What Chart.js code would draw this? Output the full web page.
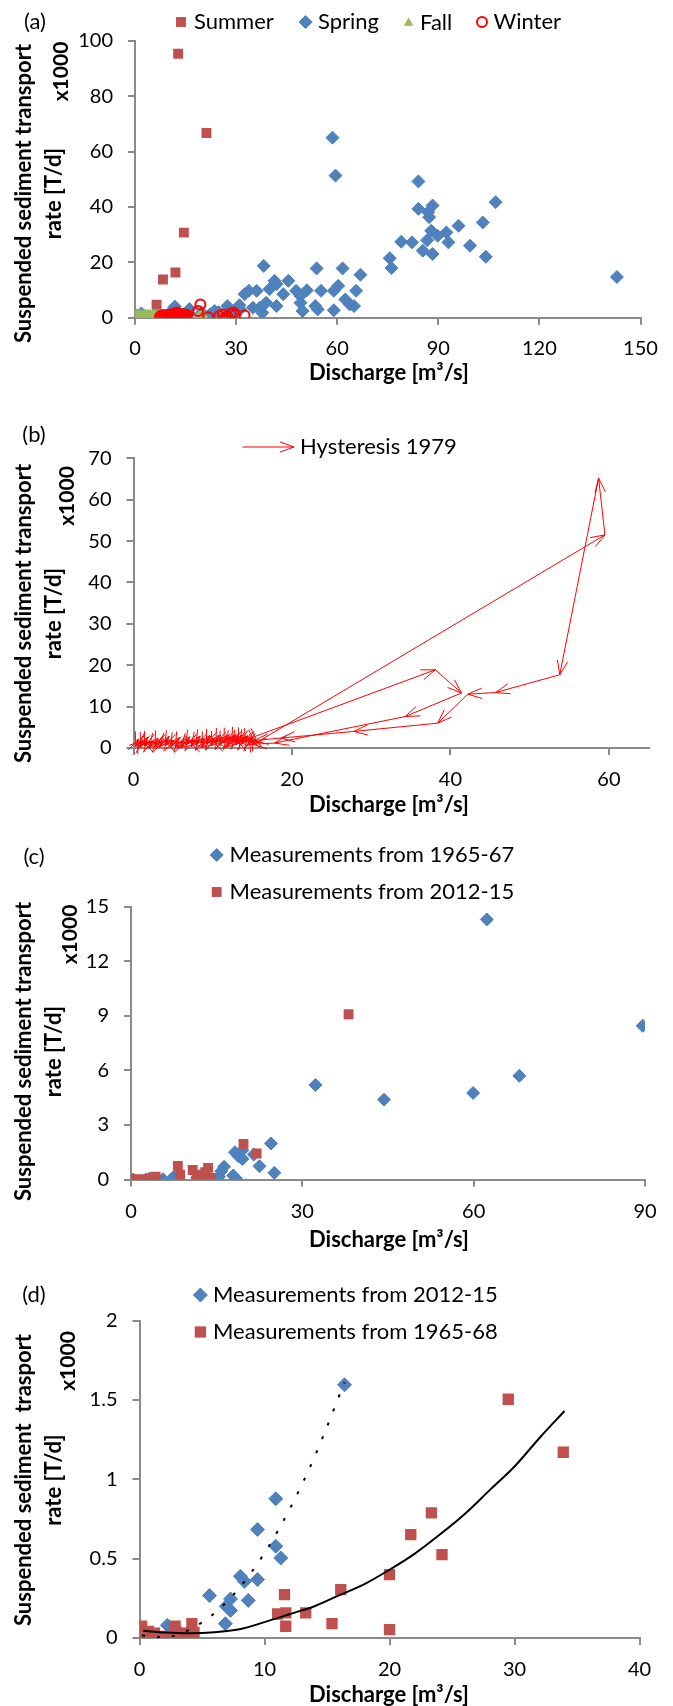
<!DOCTYPE html>
<html>
<head>
<meta charset="utf-8">
<script src="https://cdn.jsdelivr.net/npm/chart.js@4.4.1/dist/chart.umd.min.js"></script>
<style>
  body { margin: 0; background: #fff; }
  .panel { position: absolute; left: 0; width: 673px; }
</style>
</head>
<body>
<div class="panel" style="top:0;height:410px"><canvas id="chartA"></canvas></div>
<div class="panel" style="top:410px;height:425px"><canvas id="chartB"></canvas></div>
<div class="panel" style="top:835px;height:427px"><canvas id="chartC"></canvas></div>
<div class="panel" style="top:1262px;height:444px"><canvas id="chartD"></canvas></div>
<script>
// ---- (a) seasons ----
const summerA = [[0.5,1.0],[6.4,4.7],[8.3,13.8],[12.0,16.3],[12.8,95.3],[14.5,30.7],[21.2,66.7]];
const springA = [[58.6,65.0],[59.5,51.3],[84.1,49.2],[107.0,41.7],[84.1,39.3],[88.3,40.5],[87.0,38.1],[87.3,36.3],
  [103.2,34.4],[96.0,33.2],[87.9,31.4],[92.4,30.8],[89.8,29.6],[93.0,27.2],[86.7,28.0],[79.0,27.4],[82.2,27.2],
  [99.4,26.0],[85.4,24.2],[88.3,23.0],[104.1,22.0],[75.6,21.5],[76.1,17.9],[143.0,14.7],[38.2,18.7],[53.9,17.8],
  [61.6,17.8],[66.9,15.5],[41.4,13.3],[45.5,13.3],[42.0,12.1],[60.3,11.5],[59.0,9.7],[65.6,9.7],[55.2,9.7],
  [51.0,9.9],[47.8,9.7],[39.9,10.3],[36.1,9.7],[32.5,8.5],[33.8,9.7],[44.0,8.5],[49.1,7.9],[62.4,6.6],[63.7,4.8],
  [65.0,4.2],[53.5,4.2],[54.2,3.0],[59.0,2.7],[49.7,2.4],[49.1,5.4],[38.9,5.4],[42.0,4.2],[37.8,1.8],[37.0,3.6],
  [35.0,3.6],[31.2,3.0],[27.4,4.2],[23.6,2.4],[19.8,1.8],[11.5,3.3],[15.9,1.5],[29.3,1.5],[1.9,1.5],[0.5,0.8],
  [4.0,0.5],[6.0,1.2],[11.8,4.0],[16.2,3.1],[22.3,1.2],[24.8,2.0],[31.0,4.5]];
const fallA = [[0,0.2],[0.4,0.6],[0.8,0.1],[1.1,0.9],[1.5,0.3],[1.9,0.7],[2.2,0.1],[2.6,0.5],[3.0,1.0],[3.3,0.2],
  [3.7,0.6],[4.1,0.3],[4.5,0.8],[4.9,0.1],[5.3,0.5],[5.7,0.9],[6.1,0.2],[6.5,0.6],[6.9,0.3],[7.3,0.8],[7.8,0.2],
  [8.3,0.5],[9.0,0.3],[9.8,0.6],[10.5,0.2],[11.3,0.5],[12.2,0.1],[19.0,0.3],[19.8,0.8],[20.5,0.2],[26.0,0.4],
  [27.2,0.1],[28.0,0.6]];
const winterA = [[7.4,0.3],[7.8,0.8],[8.2,0.2],[8.6,1.0],[8.9,0.4],[9.3,0.7],[9.6,0.1],[10.0,1.1],[10.3,0.5],
  [10.6,0.9],[10.9,0.2],[11.2,1.3],[11.5,0.6],[11.8,1.6],[12.1,0.3],[12.4,1.9],[12.7,0.9],[13.0,1.4],[13.3,0.4],
  [13.6,1.1],[13.9,0.7],[14.2,1.3],[14.5,0.3],[14.8,0.9],[15.1,0.5],[15.5,1.0],[18.7,2.4],[19.4,4.8],[21.7,0.2],
  [25.0,0.6],[26.1,1.2],[26.8,0.1],[27.4,0.4],[28.4,1.5],[29.3,1.9],[29.7,1.0],[32.5,0.8]];
const xTicksA = [0, 30, 60, 90, 120, 150];
const yTicksA = [0, 20, 40, 60, 80, 100];

// ---- (b) hysteresis 1979 (ordered in time) ----
const hystB = [[0.2,0.3],[0.6,2.2],[0.3,0.4],[1.2,1.9],[0.9,0.2],[1.8,2.6],[1.4,0.5],[2.5,1.6],[2.0,0.1],[3.1,2.4],
  [2.7,0.6],[3.8,1.5],[3.3,0.2],[4.5,2.8],[4.0,0.7],[5.1,1.8],[4.7,0.2],[5.8,2.5],[5.3,0.4],[6.5,1.4],[6.0,0.1],
  [7.1,2.7],[6.6,0.8],[7.8,1.9],[7.3,0.3],[8.4,2.9],[7.9,0.9],[9.0,2.2],[8.6,0.4],[9.6,3.0],[9.2,1.0],[10.2,2.4],
  [9.8,0.5],[10.8,3.1],[10.4,1.2],[11.3,2.6],[10.9,0.6],[11.8,3.2],[11.4,1.3],[12.3,2.7],[11.9,0.7],[12.8,3.3],
  [12.4,1.5],[13.2,2.8],[12.9,0.8],[13.6,3.2],[13.3,1.4],[14.0,2.6],[13.7,0.9],[14.4,3.0],[14.1,1.2],[14.8,2.4],
  [38.1,18.9],[41.4,13.3],[34.3,7.6],[17.8,1.2],
  [15.0,0.9],[14.6,2.5],[15.3,1.1],[14.9,2.8],[15.6,1.4],
  [59.5,51.5],[58.7,65.2],[53.8,17.7],[45.7,13.4],[42.2,13.0],[38.4,6.0],[27.8,4.0],[18.6,2.4],
  [15.2,1.8],[14.3,0.6],[13.0,2.1],[11.6,0.2],[10.0,1.8],[8.6,0.2],[7.0,1.6],[5.5,0.2],[4.0,1.9],[2.6,0.2],
  [1.2,1.5],[0.5,0.2]];
const xTicksB = [0, 20, 40, 60];
const yTicksB = [0, 10, 20, 30, 40, 50, 60, 70];

// ---- (c) 1965-67 vs 2012-15 ----
const old6567C = [[62.3,14.3],[89.6,8.45],[68.0,5.7],[32.3,5.2],[59.9,4.76],[44.3,4.39],[24.5,1.98],[18.2,1.5],
  [19.5,1.6],[18.8,1.28],[19.5,1.13],[21.5,1.37],[22.5,0.73],[25.1,0.37],[16.3,0.70],[15.8,0.46],[17.9,0.22],
  [18.4,0.04],[15.4,0.15],[11.6,0.1],[8.0,0.1],[7.5,0.15],[5.6,0.02],[2.6,0.0],[0.4,0.0],[3.2,0.05]];
const new1215C = [[38.1,9.09],[19.7,1.96],[22.0,1.43],[8.2,0.75],[8.6,0.27],[10.8,0.52],[11.5,0.15],[13.0,0.4],
  [13.5,0.64],[14.0,0.09],[12.4,0.27],[4.3,0.15],[4.0,0.1],[0.0,0.0],[1.0,0.02],[2.1,0.0],[3.0,0.03]];
const xTicksC = [0, 30, 60, 90];
const yTicksC = [0, 3, 6, 9, 12, 15];

// ---- (d) 2012-15 vs 1965-68 with trendlines ----
const new1215D = [[16.4,1.595],[10.9,0.877],[9.44,0.683],[10.9,0.578],[11.3,0.504],[8.07,0.389],[8.4,0.357],
  [9.44,0.368],[5.6,0.267],[8.7,0.237],[7.28,0.246],[6.94,0.2],[7.28,0.174],[6.87,0.09],[2.23,0.08],[4.12,0.053],
  [2.75,0.0],[0.0,0.0],[4.2,0.02],[3.2,0.01]];
const old6568D = [[29.5,1.504],[33.9,1.17],[23.35,0.788],[21.7,0.651],[24.2,0.525],[20.0,0.399],[16.1,0.305],
  [11.6,0.273],[11.05,0.151],[11.7,0.158],[13.3,0.158],[11.7,0.074],[15.4,0.09],[20.0,0.053],[0.17,0.074],
  [0.7,0.042],[1.2,0.03],[0.5,0.0],[2.06,0.01],[2.85,0.074],[2.9,0.042],[4.19,0.09],[4.36,0.036],[3.6,0.03]];
const trendNewD = [[0.2,0.015],[2,0.005],[4,0.053],[6,0.157],[8,0.317],[10,0.535],[12,0.81],[14,1.14],[16.4,1.61]];
const trendOldD = [[0.3,0.045],[2,0.035],[4,0.03],[6,0.036],[8,0.055],[10,0.1],[12,0.15],[14,0.2],[16,0.27],
  [18,0.34],[20,0.43],[22,0.53],[24,0.65],[26,0.78],[28,0.93],[30,1.08],[32,1.26],[34,1.43]];
const xTicksD = [0, 10, 20, 30, 40];
const yTicksD = [0, 0.5, 1, 1.5, 2];

const BLUE = '#4F81BD', RED = '#C0504D', GREEN = '#9BBB59', BRIGHT = '#FF0000';
const AXIS = '#8a8a8a';
const FONT = 'Lato, "Open Sans", sans-serif';

const pts = arr => arr.map(([x, y]) => ({ x, y }));

function arrowHead(ctx, x0, y0, x1, y1) {
  const a = Math.atan2(y1 - y0, x1 - x0), len = 15, ang = 0.35;
  if (Math.hypot(x1 - x0, y1 - y0) < 1) return;
  ctx.beginPath();
  ctx.moveTo(x1 - len * Math.cos(a - ang), y1 - len * Math.sin(a - ang));
  ctx.lineTo(x1, y1);
  ctx.lineTo(x1 - len * Math.cos(a + ang), y1 - len * Math.sin(a + ang));
  ctx.stroke();
}

// texts, custom legends and arrow heads
const decor = {
  id: 'decor',
  afterDatasetsDraw(chart) {
    const ctx = chart.ctx;
    chart.data.datasets.forEach((ds, i) => {
      if (!ds.arrowHeads) return;
      const els = chart.getDatasetMeta(i).data;
      ctx.save();
      ctx.strokeStyle = ds.borderColor;
      ctx.lineWidth = ds.borderWidth;
      for (let k = 1; k < els.length; k++) arrowHead(ctx, els[k - 1].x, els[k - 1].y, els[k].x, els[k].y);
      ctx.restore();
    });
  },
  afterDraw(chart, args, opts) {
    const ctx = chart.ctx, top = opts.top || 0;
    (opts.texts || []).forEach(d => {
      ctx.save();
      ctx.font = (d.bold ? 'bold ' : '') + d.size + 'px ' + FONT;
      ctx.fillStyle = '#000';
      ctx.textBaseline = 'middle';
      ctx.textAlign = d.align || 'center';
      ctx.translate(d.x, d.y - top);
      if (d.rot) ctx.rotate(-Math.PI / 2);
      ctx.fillText(d.t, 0, 0);
      ctx.restore();
    });
    (opts.legend || []).forEach(it => {
      const y = it.y - top;
      const ds = chart.data.datasets[it.ds];
      ctx.save();
      if (it.arrow) {
        ctx.strokeStyle = ds.borderColor;
        ctx.lineWidth = ds.borderWidth;
        ctx.beginPath(); ctx.moveTo(it.x0, y); ctx.lineTo(it.x1, y); ctx.stroke();
        arrowHead(ctx, it.x0, y, it.x1, y);
      } else {
        ctx.fillStyle = ds.pointBackgroundColor;
        ctx.strokeStyle = ds.pointBorderColor || ds.pointBackgroundColor;
        ctx.lineWidth = ds.pointBorderWidth || 0;
        Chart.helpers.drawPoint(ctx, {
          pointStyle: ds.pointStyle, radius: it.r || ds.pointRadius, rotation: 0, borderWidth: ds.pointBorderWidth || 0
        }, it.x, y);
      }
      ctx.font = '22px ' + FONT;
      ctx.fillStyle = '#000';
      ctx.textBaseline = 'middle';
      ctx.textAlign = 'left';
      ctx.fillText(it.label, it.tx, y);
      ctx.restore();
    });
  }
};
Chart.register(decor);

// axis box size is fixed so the plot area lands where the original has it
function axis(ticks, max, pad, size) {
  return {
    type: 'linear', min: 0, max: max,
    afterBuildTicks: s => { s.ticks = ticks.map(v => ({ value: v })); },
    afterFit: s => {
      if (s.isHorizontal()) s.height = size; else s.width = size;
      s.paddingTop = s.paddingBottom = s.paddingLeft = s.paddingRight = 0;
    },
    ticks: { color: '#000', font: { family: FONT, size: 20 }, padding: pad, maxRotation: 0, autoSkip: false,
             callback: v => String(v) },
    grid: { drawOnChartArea: false, drawTicks: true, tickLength: 7, color: AXIS, lineWidth: 2 },
    border: { color: AXIS, width: 2 }
  };
}

function yTitles(l1, yc, xk, yk) {
  return [
    { t: l1, x: 24, y: yc, size: 22, bold: true, rot: true },
    { t: 'rate [T/d]', x: 54, y: yc, size: 22, bold: true, rot: true },
    { t: 'x1000', x: xk, y: yk, size: 21, bold: true, rot: true }
  ];
}

function makeChart(id, top, padding, datasets, scales, decorOpts) {
  decorOpts.top = top;
  return new Chart(document.getElementById(id), {
    type: 'scatter',
    data: { datasets: datasets },
    options: {
      responsive: true,
      maintainAspectRatio: false,
      animation: false,
      layout: { padding: padding },
      plugins: { legend: { display: false }, tooltip: { enabled: false }, decor: decorOpts },
      scales: scales
    }
  });
}

// (a)
makeChart('chartA', 0, { left: 0, right: 32.5, top: 40.7, bottom: 0 }, [
  { label: 'Winter', data: pts(winterA), pointStyle: 'circle', pointRadius: 5, pointBorderWidth: 2,
    pointBorderColor: BRIGHT, pointBackgroundColor: 'rgba(255,255,255,0)' },
  { label: 'Fall', data: pts(fallA), pointStyle: 'triangle', pointRadius: 7, pointBorderWidth: 0,
    pointBackgroundColor: GREEN },
  { label: 'Spring', data: pts(springA), pointStyle: 'rectRot', pointRadius: 6.5, pointBorderWidth: 1,
    pointBorderColor: BLUE, pointBackgroundColor: BLUE },
  { label: 'Summer', data: pts(summerA), pointStyle: 'rect', pointRadius: 7, pointBorderWidth: 0,
    pointBackgroundColor: RED }
], { x: axis(xTicksA, 150, 12, 92.3), y: axis(yTicksA, 100, 15, 135) }, {
  texts: [
    { t: '(a)', x: 35, y: 22, size: 22 },
    { t: 'Discharge [m³/s]', x: 389, y: 373, size: 22, bold: true }
  ].concat(yTitles('Suspended sediment transport', 193.5, 61, 71.5)),
  legend: [
    { ds: 3, x: 181, tx: 194, y: 22, label: 'Summer' },
    { ds: 2, x: 305.6, tx: 318, y: 22, label: 'Spring' },
    { ds: 1, x: 408.6, tx: 420, y: 23, r: 5.5, label: 'Fall' },
    { ds: 0, x: 482, tx: 493.5, y: 22, label: 'Winter' }
  ]
});

// (b)
makeChart('chartB', 410, { left: 0, right: 24.5, top: 48.3, bottom: 0 }, [
  { label: 'Hysteresis 1979', data: pts(hystB), showLine: true, borderColor: BRIGHT, borderWidth: 1,
    pointRadius: 0, arrowHeads: true }
], { x: axis(xTicksB, 65, 13, 87), y: axis(yTicksB, 70, 15, 133.5) }, {
  texts: [
    { t: '(b)', x: 34, y: 435, size: 22 },
    { t: 'Discharge [m³/s]', x: 389, y: 805, size: 22, bold: true }
  ].concat(yTitles('Suspended sediment transport', 613.5, 67, 496)),
  legend: [{ ds: 0, arrow: true, x0: 242.5, x1: 294, tx: 300, y: 447, label: 'Hysteresis 1979' }]
});

// (c)
makeChart('chartC', 835, { left: 0, right: 28, top: 71.7, bottom: 0 }, [
  { label: 'Measurements from 2012-15', data: pts(new1215C), pointStyle: 'rect', pointRadius: 7,
    pointBorderWidth: 0, pointBackgroundColor: RED },
  { label: 'Measurements from 1965-67', data: pts(old6567C), pointStyle: 'rectRot', pointRadius: 6.5,
    pointBorderWidth: 1, pointBorderColor: BLUE, pointBackgroundColor: BLUE }
], { x: axis(xTicksC, 90, 13, 82.5), y: axis(yTicksC, 15, 15, 131) }, {
  texts: [
    { t: '(c)', x: 34, y: 857, size: 22 },
    { t: 'Discharge [m³/s]', x: 389, y: 1240, size: 22, bold: true }
  ].concat(yTitles('Suspended sediment transport', 1051.5, 70, 934.5)),
  legend: [
    { ds: 1, x: 216.7, tx: 229.6, y: 855, label: 'Measurements from 1965-67' },
    { ds: 0, x: 216.7, tx: 229.6, y: 892, label: 'Measurements from 2012-15' }
  ]
});

// (d)
makeChart('chartD', 1262, { left: 0, right: 33.5, top: 58.5, bottom: 0 }, [
  { label: 'trend 1965-68', data: pts(trendOldD), showLine: true, borderColor: '#000', borderWidth: 2,
    pointRadius: 0, cubicInterpolationMode: 'monotone' },
  { label: 'trend 2012-15', data: pts(trendNewD), showLine: true, borderColor: '#000', borderWidth: 2,
    borderDash: [3, 12], pointRadius: 0, cubicInterpolationMode: 'monotone' },
  { label: 'Measurements from 1965-68', data: pts(old6568D), pointStyle: 'rect', pointRadius: 8,
    pointBorderWidth: 0, pointBackgroundColor: RED },
  { label: 'Measurements from 2012-15', data: pts(new1215D), pointStyle: 'rectRot', pointRadius: 7,
    pointBorderWidth: 1, pointBorderColor: BLUE, pointBackgroundColor: BLUE }
], { x: axis(xTicksD, 40, 13, 68), y: axis(yTicksD, 2, 15, 139.5) }, {
  texts: [
    { t: '(d)', x: 34, y: 1295, size: 22 },
    { t: 'Discharge [m³/s]', x: 389, y: 1695, size: 22, bold: true }
  ].concat(yTitles('Suspended sediment  trasport', 1480, 68, 1361)),
  legend: [
    { ds: 3, x: 200.4, tx: 213, y: 1295, label: 'Measurements from 2012-15' },
    { ds: 2, x: 200.4, tx: 213, y: 1332, label: 'Measurements from 1965-68' }
  ]
});
</script>
</body>
</html>
